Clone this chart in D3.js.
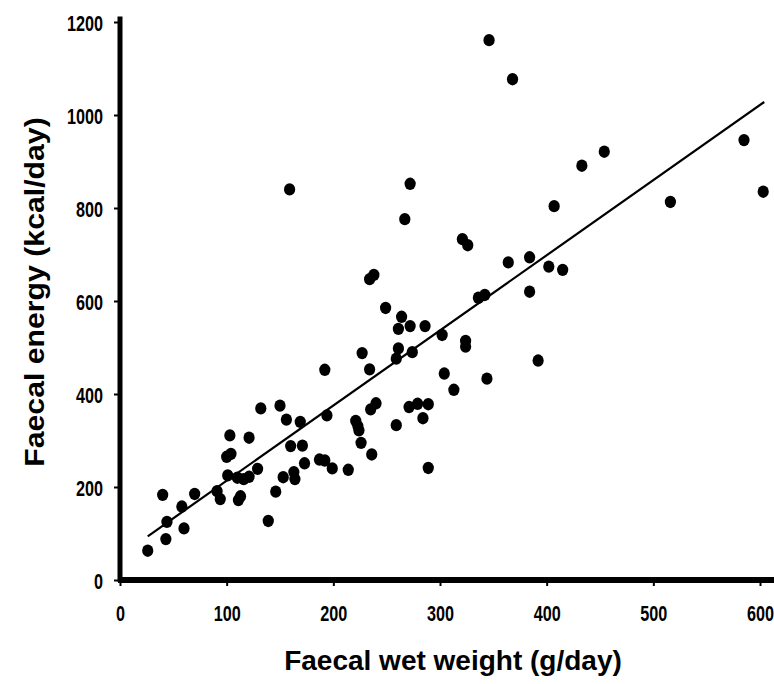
<!DOCTYPE html>
<html>
<head>
<meta charset="utf-8">
<script src="https://cdn.jsdelivr.net/npm/d3@7"></script>
<style>
  body { margin: 0; background: #fff; }
  svg { display: block; }
</style>
</head>
<body>
<svg id="chart" width="774" height="684"></svg>
<script>
(function () {

    // faecal wet weight (g/day) and faecal energy (kcal/day), one entry per subject
    var wetWeight = [26, 43, 40, 44, 58, 60, 70, 91, 94, 103, 121, 100, 104, 101, 110, 116, 121, 129,
        111, 113, 139, 146, 153, 132, 150, 156, 169, 160, 171, 163, 164, 173, 187, 192, 199, 214,
        192, 194, 227, 234, 221, 223, 224, 226, 236, 235, 240, 249, 264, 261, 272, 286, 261, 259,
        274, 259, 271, 279, 289, 284, 289, 302, 324, 324, 304, 313, 344, 392, 336, 342, 384, 364,
        384, 402, 415, 321, 326, 407, 433, 454, 516, 585, 603, 346, 368, 272, 267, 159, 234, 238];
    var energy = [63, 88, 183, 125, 158, 111, 185, 191, 174, 311, 306, 265, 271, 225, 220, 217, 222, 239,
        172, 180, 127, 190, 221, 369, 375, 345, 340, 288, 289, 232, 217, 251, 259, 257, 240, 237,
        452, 354, 488, 453, 342, 331, 322, 295, 270, 367, 380, 585, 566, 540, 546, 546, 498, 476,
        490, 333, 372, 379, 378, 348, 241, 527, 514, 502, 444, 409, 433, 472, 607, 613, 620, 683,
        694, 674, 667, 733, 720, 804, 891, 921, 813, 946, 835, 1161, 1077, 852, 776, 840, 647, 656];

    // fitted regression line end points
    var fitX = [26, 604],
        fitY = [94, 1028];

    var xTicks = [0, 100, 200, 300, 400, 500, 600],
        yTicks = [0, 200, 400, 600, 800, 1000, 1200];

    var svg = d3.select('#chart'),
        width = +svg.attr('width');

    var x = d3.scaleLinear().domain([0, 600]).range([120, 760]),
        y = d3.scaleLinear().domain([0, 1200]).range([580, 22]);

    var font = "'Liberation Sans', Arial, sans-serif";

    // the scanned digits are narrow and tall, so squeeze them
    function styleTicks(g, dx, dy) {
        g.select('.domain').remove();
        g.selectAll('.tick line').attr('stroke', '#000').attr('stroke-width', 2);
        g.selectAll('.tick text')
            .attr('x', 0)
            .attr('y', 0)
            .attr('transform', 'translate(' + dx + ',' + dy + ') scale(0.9,1.22)')
            .attr('fill', '#000')
            .style('font-family', font)
            .style('font-weight', 'bold')
            .style('font-size', '18px');
    }

    // y axis
    svg.append('g')
        .attr('transform', 'translate(' + x(0) + ',0)')
        .call(d3.axisLeft(y).tickValues(yTicks).tickSize(6).tickFormat(d3.format('d')))
        .call(styleTicks, -17, 1);

    // x axis
    svg.append('g')
        .attr('transform', 'translate(0,' + y(0) + ')')
        .call(d3.axisBottom(x).tickValues(xTicks).tickSize(6).tickFormat(d3.format('d')))
        .call(styleTicks, 0, 25);

    // heavy axis lines
    svg.append('line')
        .attr('x1', x(0)).attr('x2', x(0))
        .attr('y1', y(0) + 2).attr('y2', y(1212))
        .attr('stroke', '#000').attr('stroke-width', 5);
    svg.append('line')
        .attr('x1', x(0) - 2).attr('x2', width)
        .attr('y1', y(0)).attr('y2', y(0))
        .attr('stroke', '#000').attr('stroke-width', 6);

    // regression line
    svg.append('path')
        .datum(d3.zip(fitX, fitY))
        .attr('fill', 'none')
        .attr('stroke', '#000')
        .attr('stroke-width', 2.2)
        .attr('d', d3.line().x(function (d) { return x(d[0]); }).y(function (d) { return y(d[1]); }));

    // points
    svg.append('g')
        .selectAll('ellipse')
        .data(d3.zip(wetWeight, energy))
        .enter().append('ellipse')
            .attr('cx', function (d) { return x(d[0]); })
            .attr('cy', function (d) { return y(d[1]); })
            .attr('rx', 5.6)
            .attr('ry', 6.2)
            .attr('fill', '#000');

    // axis titles
    svg.append('text')
        .attr('x', 453)
        .attr('y', 670)
        .attr('text-anchor', 'middle')
        .style('font-family', font)
        .style('font-weight', 'bold')
        .style('font-size', '28px')
        .text('Faecal wet weight (g/day)');

    svg.append('text')
        .attr('transform', 'translate(44,292) rotate(-90) scale(1.08,1)')
        .attr('text-anchor', 'middle')
        .style('font-family', font)
        .style('font-weight', 'bold')
        .style('font-size', '28px')
        .text('Faecal energy (kcal/day)');

}());
</script>
</body>
</html>
